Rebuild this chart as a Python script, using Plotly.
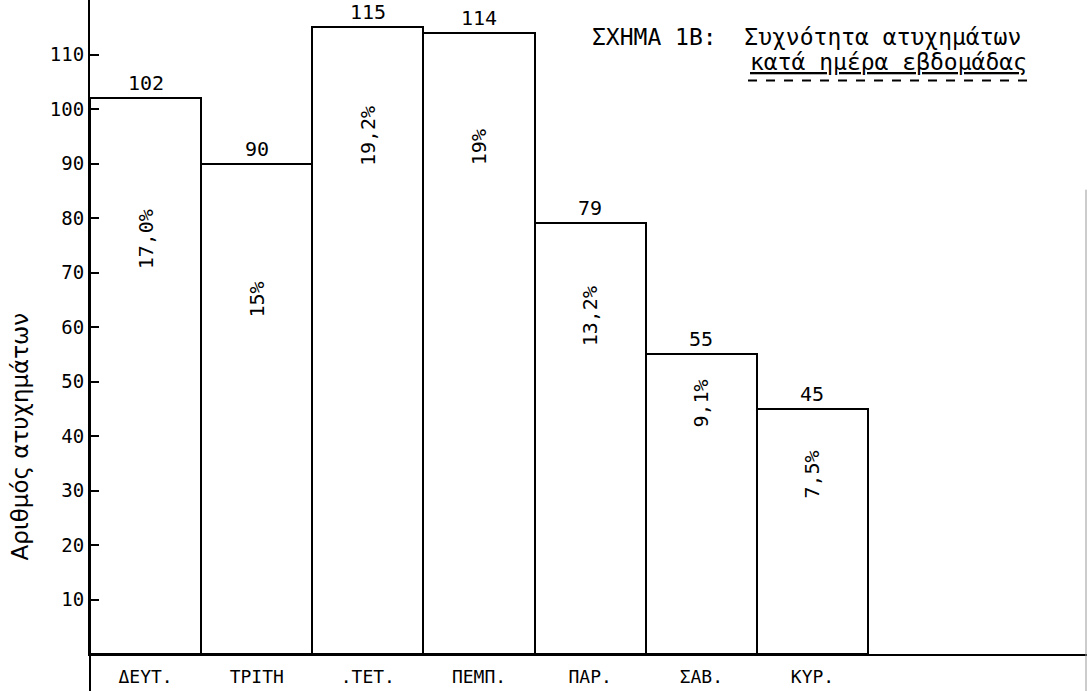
import plotly.graph_objects as go

days = ['ΔΕΥΤ.', 'ΤΡΙΤΗ', '.ΤΕΤ.', 'ΠΕΜΠ.', 'ΠΑΡ.', 'ΣΑΒ.', 'ΚΥΡ.']
accidents = [102, 90, 115, 114, 79, 55, 45]
percents = ['17,0%', '15%', '19,2%', '19%', '13,2%', '9,1%', '7,5%']
y_ticks = [10, 20, 30, 40, 50, 60, 70, 80, 90, 100, 110]

# where the rotated percentage sits inside each bar (axis units)
pct_height = [76, 65, 95, 93, 62, 46, 33]

MONO = 'DejaVu Sans Mono'

fig = go.Figure(go.Bar(
    x=days, y=accidents,
    marker=dict(color='white', line=dict(color='black', width=2)),
    width=1.0,
    hoverinfo='skip',
))

anns = []
for d, v, p, h in zip(days, accidents, percents, pct_height):
    anns.append(dict(x=d, y=v, text=str(v), showarrow=False, yanchor='bottom',
                     yshift=1, font=dict(family=MONO, size=20, color='black')))
    anns.append(dict(x=d, y=h, text=p, showarrow=False, textangle=-90,
                     xanchor='center', yanchor='middle',
                     font=dict(family=MONO, size=20, color='black')))

anns += [
    dict(xref='paper', yref='paper', x=0.5015, y=0.943, xanchor='left', yanchor='middle',
         text='ΣΧΗΜΑ 1Β:  Συχνότητα ατυχημάτων', showarrow=False,
         font=dict(family=MONO, size=23, color='black')),
    dict(xref='paper', yref='paper', x=0.66, y=0.905, xanchor='left', yanchor='middle',
         text='<u>κατά ημέρα εβδομάδας</u>', showarrow=False,
         font=dict(family=MONO, size=23, color='black')),
    dict(xref='paper', yref='paper', x=-0.07, y=0.333, text='Αριθμός ατυχημάτων',
         textangle=-90, showarrow=False, xanchor='center', yanchor='middle',
         font=dict(family='DejaVu Sans', size=23, color='black')),
]

fig.update_layout(
    width=1087, height=691,
    margin=dict(l=90, r=0, t=0, b=37),
    paper_bgcolor='white', plot_bgcolor='white',
    bargap=0, showlegend=False,
    annotations=anns,
    shapes=[
        # y axis carried on below the x axis
        dict(type='line', xref='paper', yref='paper', x0=0, x1=0, y0=-0.07, y1=0,
             line=dict(color='black', width=2)),
        # faint frame at the right edge
        dict(type='line', xref='paper', yref='paper', x0=0.999, x1=0.999, y0=-0.07, y1=0.71,
             line=dict(color='#999999', width=1)),
        # dashed underline under the subtitle
        dict(type='line', xref='paper', yref='paper', x0=0.66, x1=0.945, y0=0.877, y1=0.877,
             line=dict(color='black', width=2, dash='dash')),
    ],
    xaxis=dict(
        range=[-0.5, 8.47], showline=True, linecolor='black', linewidth=2,
        showgrid=False, ticks='', ticklabelstandoff=5, zeroline=False,
        automargin=False,
        tickfont=dict(family=MONO, size=18, color='black'),
    ),
    yaxis=dict(
        range=[0, 120], showline=True, linecolor='black', linewidth=2,
        showgrid=False, zeroline=False, ticks='inside', ticklen=9, tickwidth=2,
        tickcolor='black', tickvals=y_ticks, automargin=False,
        tickfont=dict(family=MONO, size=19, color='black'),
    ),
)

fig.write_html('out.html', config={'displayModeBar': False},
               post_script="document.body.style.margin='0';")
